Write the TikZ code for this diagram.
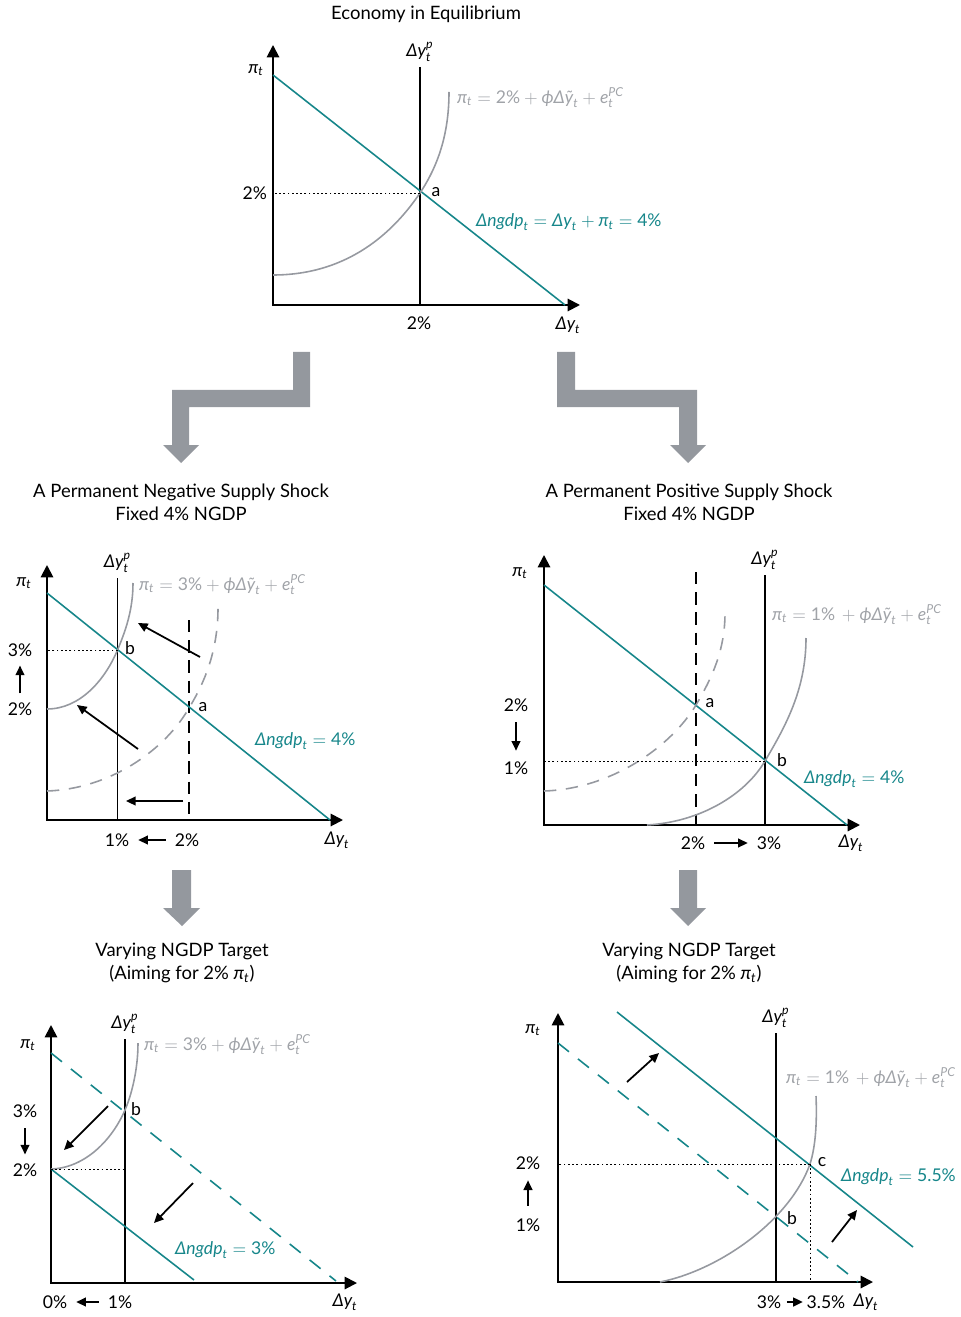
\documentclass[tikz,border=0pt]{standalone}
\usepackage{amsmath}
\usepackage{fontspec}
\setmainfont{Lato}
\usetikzlibrary{arrows.meta, positioning, calc}
\definecolor{adteal}{RGB}{22,134,138}
\definecolor{pcgray}{RGB}{150,153,160}
\definecolor{txtgray}{RGB}{160,163,168}
\definecolor{blockgray}{RGB}{148,152,158}
\newcommand{\itx}[1]{\text{\itshape #1}}
\newcommand{\vpi}{$\itx{π}_{\itx{t}}$}
\newcommand{\vdy}{$\itx{Δy}_{\itx{t}}$}
\newcommand{\vdyp}{$\itx{Δy}^{\itx{p}}_{\itx{t}}$}
\newcommand{\pcrule}[1]{$\itx{π}_{\itx{t}} = \text{#1} + \itx{ϕΔỹ}_{\itx{t}} + \itx{e}^{\itx{PC}}_{\itx{t}}$}
\newcommand{\adrule}[1]{$\itx{Δngdp}_{\itx{t}} = \text{#1}$}
\tikzset{
  axis/.style={line width=1.1pt,
    {Triangle[length=7pt,width=7pt]}-{Triangle[length=7pt,width=7pt]}},
  adline/.style={adteal, line width=0.9pt},
  adold/.style={adline, dash pattern=on 8pt off 6.5pt},
  pc/.style={pcgray, line width=0.9pt},
  pcold/.style={pc, dash pattern=on 7pt off 5.5pt},
  lrline/.style={line width=1.1pt},
  lrold/.style={lrline, dash pattern=on 7pt off 4.5pt},
  guide/.style={dash pattern=on 1pt off 1.4pt, line width=0.5pt},
  move/.style={-{Triangle[length=5.5pt,width=5pt]}, line width=1pt},
  lbl/.style={font=\fontsize{10}{12}\selectfont, inner sep=1pt},
  pctxt/.style={lbl, txtgray, anchor=west},
  adtxt/.style={lbl, adteal, anchor=west},
  ttl/.style={align=center, font=\fontsize{10.5}{13}\selectfont},
  block/.style={fill=blockgray, draw=none},
}

\begin{document}
\begin{tikzpicture}[x=0.02cm, y=-0.02cm]
  \useasboundingbox (0,0) rectangle (960,1317);

  % ---------- top: equilibrium ----------
  \node[ttl] (t1) at (426,14) {Economy in Equilibrium};
  \coordinate (y1) at (273,45);
  \coordinate (o1) at (273,305);
  \coordinate (x1) at (580,305);
  \draw[axis] (y1) |- (x1);
  \node[lbl] (pi1) at (256,70) {\vpi};
  \node[lbl] (dy1) at (568,325) {\vdy};

  \coordinate (lr1t) at (420,67);
  \coordinate (lr1b) at (420,305);
  \draw[lrline] (lr1t) -- (lr1b);
  \node[lbl, above=2pt of lr1t] (lp1) {\vdyp};

  \coordinate (ad1s) at (273,75);
  \coordinate (ad1e) at (565,305);
  \draw[adline] (ad1s) -- (ad1e);

  \coordinate (a1) at (420,193);
  \draw[pc] (273,275) .. controls (350,275) and (395,230) .. (a1)
            .. controls (440,163) and (449,130) .. (449,92);
  \draw[guide] (a1) -- (a1 -| o1);
  \node[lbl, anchor=east] (v1) at ($(a1 -| o1)+(-4,0)$) {2\%};
  \node[lbl] (h1) at (419,323) {2\%};
  \node[lbl] (la1) at (436,192) {a};
  \node[pctxt] (pct1) at (455,98) {\pcrule{2\%}};
  \node[adtxt] (adt1) at (474,222)
    {$\itx{Δngdp}_{\itx{t}} = \itx{Δy}_{\itx{t}} + \itx{π}_{\itx{t}} = \text{4\%}$};

  % ---------- block arrows ----------
  \fill[block] (310,352) -- (310,407) -- (189,407) -- (189,445) -- (199,445)
    -- (181,463) -- (163,445) -- (172,445) -- (172,390) -- (293,390)
    -- (293,352) -- cycle;
  \fill[block] (557,352) -- (575,352) -- (575,390) -- (697,390) -- (697,445)
    -- (706,445) -- (688,463) -- (670,445) -- (679,445) -- (679,407)
    -- (557,407) -- cycle;
  \fill[block] (172,870) -- (191,870) -- (191,908) -- (200,908) -- (182,926)
    -- (163,908) -- (172,908) -- cycle;
  \fill[block] (679,870) -- (697,870) -- (697,908) -- (706,908) -- (688,926)
    -- (670,908) -- (679,908) -- cycle;

  % ---------- middle left: negative shock ----------
  \node[ttl] (t2) at (181,502) {A Permanent Negative Supply Shock\\Fixed 4\% NGDP};
  \coordinate (y2) at (47,565);
  \coordinate (o2) at (47,820);
  \coordinate (x2) at (343,820);
  \draw[axis] (y2) |- (x2);
  \node[lbl] (pi2) at (24,583) {\vpi};
  \node[lbl] (dy2) at (337,840) {\vdy};

  \coordinate (lr2t) at (117.5,578);
  \draw[lrline] (lr2t) -- (lr2t |- o2);
  \node[lbl, above=2pt of lr2t] (lp2) {\vdyp};
  \coordinate (lr2o) at (189,620);
  \draw[lrold] (lr2o) -- (lr2o |- o2);

  \coordinate (ad2s) at (47,593);
  \coordinate (ad2e) at (330,820);
  \draw[adline] (ad2s) -- (ad2e);

  \coordinate (b2) at (117.5,650);
  \coordinate (a2) at (189,708);
  \draw[pcold] (47,791) .. controls (110,789) and (165,750) .. (a2)
               .. controls (205,682) and (218,650) .. (218,608);
  \draw[pc] (47,709) .. controls (80,709) and (105,680) .. (b2)
            .. controls (125.5,631) and (133,610) .. (133,583);
  \draw[guide] (b2) -- (b2 -| o2);

  \node[lbl] (v2h) at (20,650) {3\%};
  \node[lbl] (v2l) at (20,709) {2\%};
  \draw[move, shorten <=4pt, shorten >=4pt] (v2l) -- (v2h);
  \node[lbl] (h2l) at (117,840) {1\%};
  \node[lbl] (h2h) at (187,840) {2\%};
  \draw[move, shorten <=4pt, shorten >=4pt] (h2h) -- (h2l);
  \node[lbl] (lb2) at (130,648) {b};
  \node[lbl] (la2) at (203,707) {a};

  \coordinate (m2a) at (200,657);  \coordinate (m2b) at (138,623);
  \coordinate (m2c) at (138,749);  \coordinate (m2d) at (77,705);
  \coordinate (m2e) at (183,801);  \coordinate (m2f) at (126,801);
  \draw[move] (m2a) -- (m2b);
  \draw[move] (m2c) -- (m2d);
  \draw[move] (m2e) -- (m2f);

  \node[pctxt] (pct2) at (137,585) {\pcrule{3\%}};
  \node[adtxt] (adt2) at (253,741) {\adrule{4\%}};

  % ---------- middle right: positive shock ----------
  \node[ttl] (t3) at (689,502) {A Permanent Positive Supply Shock\\Fixed 4\% NGDP};
  \coordinate (y3) at (544,555);
  \coordinate (o3) at (544,825);
  \coordinate (x3) at (860,825);
  \draw[axis] (y3) |- (x3);
  \node[lbl] (pi3) at (520,573) {\vpi};
  \node[lbl] (dy3) at (851,843) {\vdy};

  \coordinate (lr3t) at (765,575);
  \draw[lrline] (lr3t) -- (lr3t |- o3);
  \node[lbl, above=2pt of lr3t] (lp3) {\vdyp};
  \coordinate (lr3o) at (696,572);
  \draw[lrold] (lr3o) -- (lr3o |- o3);

  \coordinate (ad3s) at (544,585);
  \coordinate (ad3e) at (847,825);
  \draw[adline] (ad3s) -- (ad3e);

  \coordinate (a3) at (696,705);
  \coordinate (b3) at (765,761);
  \draw[pcold] (544,791) .. controls (610,789) and (670,748) .. (a3)
               .. controls (712,678) and (725,650) .. (725,613);
  \draw[pc] (647,825) .. controls (700,822) and (745,795) .. (b3)
            .. controls (785,727) and (806,690) .. (806,638);
  \draw[guide] (b3) -- (b3 -| o3);

  \node[lbl] (v3h) at (516,705) {2\%};
  \node[lbl] (v3l) at (516,768) {1\%};
  \draw[move, shorten <=5pt, shorten >=5pt] (v3h) -- (v3l);
  \node[lbl] (h3l) at (693,843) {2\%};
  \node[lbl] (h3h) at (769,843) {3\%};
  \draw[move, shorten <=4pt, shorten >=4pt] (h3l) -- (h3h);
  \node[lbl] (la3) at (710,703) {a};
  \node[lbl] (lb3) at (782,760) {b};

  \node[pctxt] (pct3) at (770,615) {\pcrule{1\%\,}};
  \node[adtxt] (adt3) at (802,779) {\adrule{4\%}};

  % ---------- bottom left: lower target ----------
  \node[ttl] (t4) at (182,963) {Varying NGDP Target\\(Aiming for 2\% \vpi)};
  \coordinate (y4) at (51,1025);
  \coordinate (o4) at (51,1283);
  \coordinate (x4) at (357,1283);
  \draw[axis] (y4) |- (x4);
  \node[lbl] (pi4) at (28,1045) {\vpi};
  \node[lbl] (dy4) at (345,1302) {\vdy};

  \coordinate (lr4t) at (125,1039);
  \draw[lrline] (lr4t) -- (lr4t |- o4);
  \node[lbl, above=2pt of lr4t] (lp4) {\vdyp};

  \coordinate (ad4s) at (51,1053);
  \coordinate (ad4e) at (336,1281);
  \draw[adold] (ad4s) -- (ad4e);
  \coordinate (ad4n) at (51,1169);
  \coordinate (ad4m) at (194,1280);
  \draw[adline] (ad4n) -- (ad4m);

  \coordinate (b4) at (125,1110);
  \draw[pc] (ad4n) .. controls (85,1168) and (112,1140) .. (b4)
            .. controls (131.5,1095) and (138,1070) .. (138,1043);
  \draw[guide] (ad4n) -- (ad4n -| lr4t);

  \node[lbl] (v4h) at (25,1111) {3\%};
  \node[lbl] (v4l) at (25,1170) {2\%};
  \draw[move, shorten <=5pt, shorten >=4pt] (v4h) -- (v4l);
  \node[lbl] (h4l) at (55,1302) {0\%};
  \node[lbl] (h4h) at (120,1302) {1\%};
  \draw[move, shorten <=4pt, shorten >=4pt] (h4h) -- (h4l);
  \node[lbl] (lb4) at (136,1109) {b};

  \coordinate (m4a) at (108,1106);  \coordinate (m4b) at (64,1150);
  \coordinate (m4c) at (193,1183);  \coordinate (m4d) at (154,1223);
  \draw[move] (m4a) -- (m4b);
  \draw[move] (m4c) -- (m4d);

  \node[pctxt] (pct4) at (142,1045) {\pcrule{3\%}};
  \node[adtxt] (adt4) at (173,1250) {\adrule{3\%}};

  % ---------- bottom right: higher target ----------
  \node[ttl] (t5) at (689,963) {Varying NGDP Target\\(Aiming for 2\% \vpi)};
  \coordinate (y5) at (558,1013);
  \coordinate (o5) at (558,1282);
  \coordinate (x5) at (873,1282);
  \draw[axis] (y5) |- (x5);
  \node[lbl] (pi5) at (533,1030) {\vpi};
  \node[lbl] (dy5) at (866,1302) {\vdy};

  \coordinate (lr5t) at (776,1033);
  \draw[lrline] (lr5t) -- (lr5t |- o5);
  \node[lbl, above=2pt of lr5t] (lp5) {\vdyp};

  \coordinate (ad5s) at (558,1043);
  \coordinate (ad5e) at (858,1282);
  \draw[adold] (ad5s) -- (ad5e);
  \coordinate (ad5n) at (617,1012);
  \coordinate (ad5m) at (913,1247);
  \draw[adline] (ad5n) -- (ad5m);

  \coordinate (c5) at (810,1164);
  \draw[pc] (660,1282) .. controls (720,1270) and (790,1220) .. (c5)
            .. controls (816,1145) and (817,1120) .. (816,1096);
  \draw[guide] (c5) -- (c5 -| o5);
  \draw[guide] (c5) -- (c5 |- o5);

  \node[lbl] (v5h) at (528,1163) {2\%};
  \node[lbl] (v5l) at (528,1225) {1\%};
  \draw[move, shorten <=6pt, shorten >=5pt] (v5l) -- (v5h);
  \node[lbl] (h5l) at (769,1302) {3\%};
  \node[lbl] (h5h) at (826,1302) {3.5\%};
  \draw[move, shorten <=2pt, shorten >=1pt] (h5l) -- (h5h);
  \node[lbl] (lc5) at (822,1162) {c};
  \node[lbl] (lb5) at (792,1218) {b};

  \coordinate (m5a) at (627,1082);  \coordinate (m5b) at (659,1053);
  \coordinate (m5c) at (832,1242);  \coordinate (m5d) at (857,1210);
  \draw[move] (m5a) -- (m5b);
  \draw[move] (m5c) -- (m5d);

  \node[pctxt] (pct5) at (784,1078) {\pcrule{1\%\,}};
  \node[adtxt] (adt5) at (839,1177) {\adrule{5.5\%}};

\end{tikzpicture}
\end{document}
